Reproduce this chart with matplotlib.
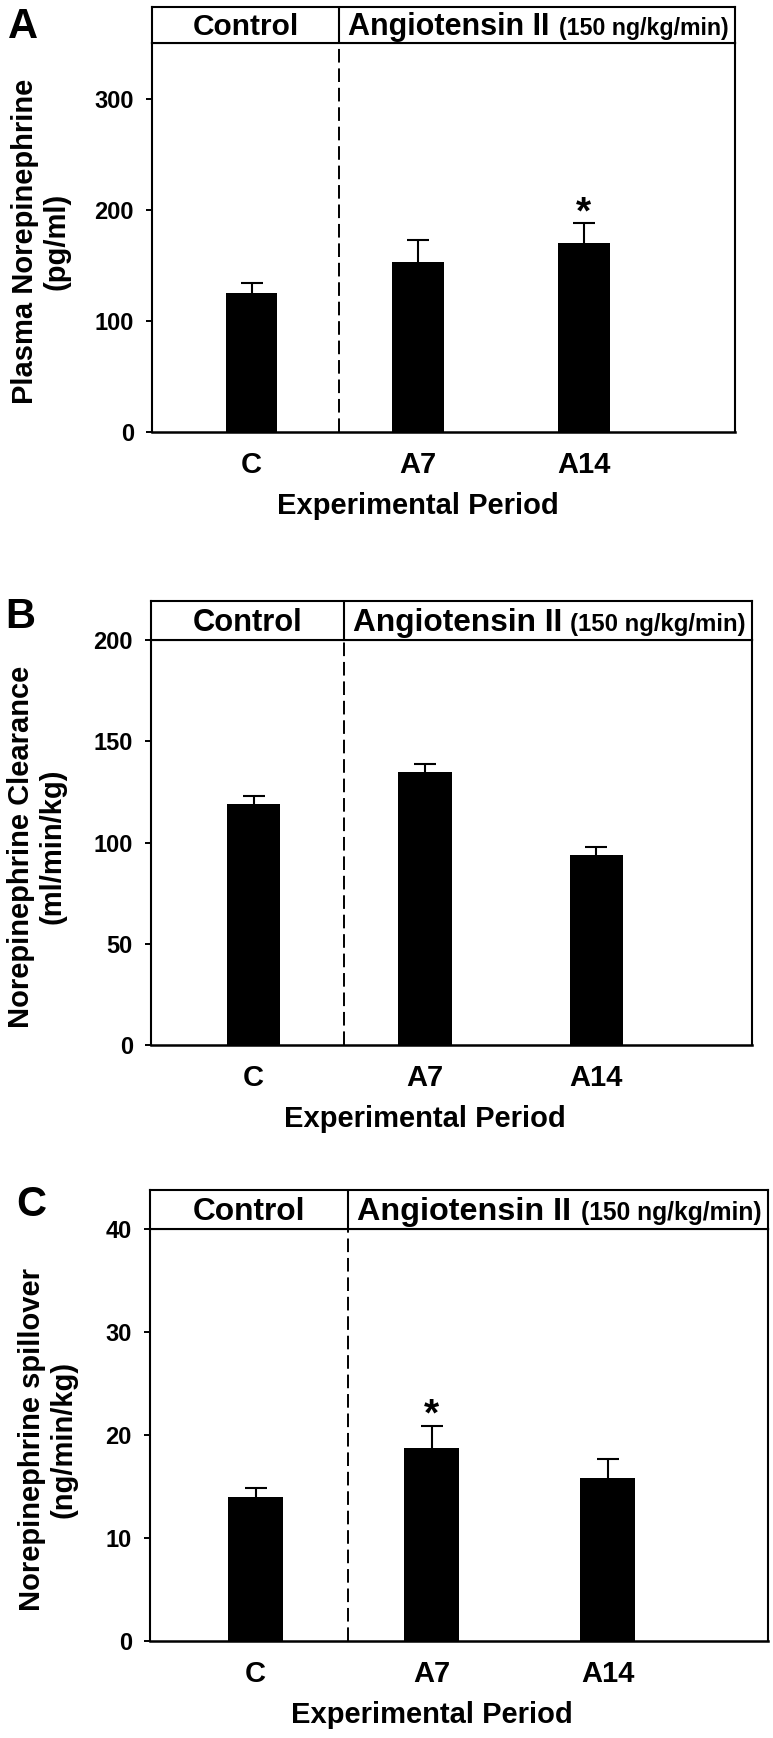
import matplotlib
matplotlib.use("Agg")
import matplotlib.pyplot as plt
from matplotlib.transforms import blended_transform_factory

plt.rcParams['font.family'] = ['Liberation Sans', 'DejaVu Sans']
plt.rcParams['font.weight'] = 'bold'

# data
periods = ['C', 'A7', 'A14']
xpos = [0, 1, 2]

plasma_ne = [125, 153, 170]
plasma_ne_err = [9, 20, 18]
ne_clearance = [119, 135, 94]
ne_clearance_err = [4, 4, 4]
ne_spillover = [14.0, 18.7, 15.8]
ne_spillover_err = [0.9, 2.2, 1.9]

W, H = 773, 1738
fig = plt.figure(figsize=(W / 100, H / 100), dpi=100)


def rect(l, t, r, b):
    # pixel box -> figure fraction
    return [l / W, 1 - b / H, (r - l) / W, (b - t) / H]


panels = [
    dict(letter='A', lpos=(23, 38), box=(152, 43, 735, 432), htop=7, hs=1.0,
         vals=plasma_ne, errs=plasma_ne_err, ymax=350, yticks=[0, 100, 200, 300],
         ylabel='Plasma Norepinephrine\n(pg/ml)', ylx=41, star=2),
    dict(letter='B', lpos=(20, 628), box=(151, 640, 752, 1045), htop=601, hs=1.035,
         vals=ne_clearance, errs=ne_clearance_err, ymax=200, yticks=[0, 50, 100, 150, 200],
         ylabel='Norepinephrine Clearance\n(ml/min/kg)', ylx=37, star=None),
    dict(letter='C', lpos=(31, 1216), box=(150, 1229, 768, 1641), htop=1190, hs=1.06,
         vals=ne_spillover, errs=ne_spillover_err, ymax=40, yticks=[0, 10, 20, 30, 40],
         ylabel='Norepinephrine spillover\n(ng/min/kg)', ylx=48, star=1),
]

xlo, xhi = -0.6, 2.91
divider = 0.525

for p in panels:
    l, t, r, b = p['box']
    ax = fig.add_axes(rect(l, t, r, b))
    ax.bar(xpos, p['vals'], width=0.31, color='black')
    eb = ax.errorbar(xpos, p['vals'], yerr=[[0, 0, 0], p['errs']], fmt='none',
                     ecolor='black', elinewidth=1.5, capsize=8, capthick=1.5)
    eb[1][0].set_visible(False)
    ax.axvline(divider, color='black', lw=1.4, ls=(0, (7, 3)))
    ax.set_xlim(xlo, xhi)
    ax.set_ylim(0, p['ymax'])
    ax.set_yticks(p['yticks'])
    ax.set_xticks(xpos, periods)
    ax.tick_params(axis='y', direction='out', length=4.5, width=1.4, labelsize=17, pad=8.5)
    ax.tick_params(axis='x', length=0, labelsize=21, pad=14)
    for s in ax.spines.values():
        s.set_linewidth(1.5)
    ax.spines['bottom'].set_linewidth(1.8)

    # y label
    ax.text((p['ylx'] - l) / (r - l), 0.49, p['ylabel'], rotation=90, ha='center',
            va='center', transform=ax.transAxes, fontsize=21,
            linespacing=1.15, multialignment='center')
    # x label
    tr = blended_transform_factory(ax.transData, ax.transAxes)
    ax.text(1, -82 / (b - t), 'Experimental Period', ha='center', va='baseline',
            transform=tr, fontsize=21)

    # significance star
    if p['star'] is not None:
        i = p['star']
        ax.text(xpos[i], p['vals'][i] + p['errs'][i], '*', ha='center', va='baseline',
                fontsize=28)

    # header box
    hs = p['hs']
    hax = fig.add_axes(rect(l, p['htop'], r, t))
    hax.set_xlim(xlo, xhi)
    hax.set_ylim(0, 1)
    hax.set_xticks([])
    hax.set_yticks([])
    for s in hax.spines.values():
        s.set_linewidth(1.5)
    hax.axvline(divider, color='black', lw=1.5)
    hax.text((xlo + divider) / 2, 0.22, 'Control', ha='center', va='baseline',
             fontsize=21.5 * hs)
    dfrac = (divider - xlo) / (xhi - xlo)
    hax.text(dfrac + 9 / (r - l), 0.22, 'Angiotensin II', ha='left', va='baseline',
             fontsize=22 * hs, transform=hax.transAxes)
    hax.text(1 - 6 / (r - l), 0.22, '(150 ng/kg/min)', ha='right', va='baseline',
             fontsize=16.7 * hs, transform=hax.transAxes)

    # panel letter
    fig.text(p['lpos'][0] / W, 1 - p['lpos'][1] / H, p['letter'], ha='center',
             va='baseline', fontsize=30)

fig.savefig('out.png', dpi=100)
